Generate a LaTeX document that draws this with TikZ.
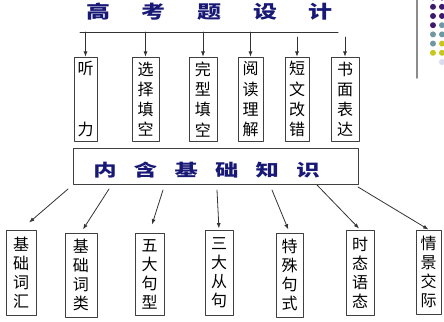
\documentclass[tikz,border=0pt]{standalone}
\usepackage{fontspec}
\usepackage{graphicx}
\newfontfamily\cjk{Noto Sans CJK SC}
\usetikzlibrary{arrows.meta}
\definecolor{headblue}{RGB}{24,24,118}
\definecolor{dotpurple}{RGB}{62,26,110}
\definecolor{dotteal}{RGB}{112,152,164}
\definecolor{dotyellow}{RGB}{200,198,28}
\definecolor{dotlilac}{RGB}{218,218,240}
\tikzset{
  box/.style={draw=black!75, line width=0.75pt, inner sep=0pt, align=center,
    font=\cjk\fontsize{12}{15.2}\selectfont},
  lowbox/.style={box, font=\cjk\fontsize{12}{14.25}\selectfont},
  arr/.style={-{Latex[length=4pt,width=3pt]}, draw=black!80, line width=0.6pt},
  headtext/.style={text=headblue, inner sep=0pt, font=\cjk\bfseries},
}

\begin{document}
\begin{tikzpicture}[x=0.75pt, y=-0.75pt, line join=round, line cap=round]
  \useasboundingbox (0,0) rectangle (444,322);

  % Corner decoration
  \draw[black!45, line width=1.2pt] (417,0) -- (417,78);
  \foreach \row/\ca/\cb in {0/dotpurple/dotpurple, 1/dotpurple/dotpurple,
      2/dotpurple/dotpurple, 3/dotpurple/dotteal, 4/dotteal/dotteal,
      5/dotteal/dotyellow, 6/dotyellow/dotyellow}
  {
    \fill[\ca] (433, -2.4+9.2*\row) circle (3);
    \fill[\cb] (442, -2.4+9.2*\row) circle (3);
  }
  \fill[dotlilac] (442, 62) circle (3);

  % Title and bar
  \node[headtext] (title) at (209.5, 12)
    {\scalebox{1.2}[0.9]{\fontsize{15}{18}\selectfont 高\hspace{1.32em}考\hspace{1.32em}题\hspace{1.32em}设\hspace{1.32em}计}};
  \coordinate (barL) at (80, 32);
  \coordinate (barR) at (338, 32);
  \draw[black!80, line width=0.75pt] (barL) -- (barR);

  % Exam parts
  \foreach \name/\cx/\w/\txt in {listen/85.5/23/{听\\[30.4pt]力},
      choose/145.5/27/{选\\择\\填\\空}, cloze/203/28/{完\\型\\填\\空},
      read/250.5/25/{阅\\读\\理\\解}, fix/297/24/{短\\文\\改\\错},
      write/345/28/{书\\面\\表\\达}}
    \node[box, minimum width=\w*0.75pt, minimum height=63pt] (\name) at (\cx, 99.25) {\txt};

  \draw[arr] (listen.north |- barL) -- (listen.north);
  \draw[arr] (choose.north |- barL) -- (choose.north);
  \draw[arr] (cloze.north |- barL) -- (cloze.north);
  \draw[arr] (read.north |- barL) -- (read.north);
  \draw[arr, shorten <=3.75pt] (fix.north |- barL) -- (fix.north);
  \draw[arr, shorten <=3.75pt] (write.north |- barL) -- (write.north);

  % Basic knowledge
  \node[draw=black!75, line width=0.75pt, inner sep=0pt,
    minimum width=213.75pt, minimum height=27pt] (base) at (215.5, 166) {};
  \node[headtext] (basetext) at (206.5, 170)
    {\scalebox{1.25}[0.9]{\fontsize{14}{16}\selectfont 内\hspace{0.74em}含\hspace{0.74em}基\hspace{0.74em}础\hspace{0.74em}知\hspace{0.74em}识}};

  \foreach \name/\cx/\cy/\w/\h/\txt in {bA/21/272.5/30/85/{基\\础\\词\\汇},
      bB/81/275/32/84/{基\\础\\词\\类}, bC/149.5/274/29/82/{五\\大\\句\\型},
      bD/219/272.5/28/85/{三\\大\\从\\句}, bE/289.5/275/27/84/{特\\殊\\句\\式},
      bF/360/272.5/28/85/{时\\态\\语\\态}, bG/428.5/272/25/84/{情\\景\\交\\际}}
    \node[lowbox, minimum width=\w*0.75pt, minimum height=\h*0.75pt] (\name) at (\cx, \cy) {\txt};

  \foreach \i/\sx/\sy/\b/\g in {1/68/189/bA/8pt, 2/109/189/bB/2.7pt,
      3/163/190/bC/6.3pt, 4/217/190/bD/0.8pt, 5/272/190/bE/2.4pt,
      6/317/185/bF/1pt, 7/358/187/bG/0pt}
  {
    \coordinate (s\i) at (\sx, \sy);
    \draw[arr, shorten >=\g] (s\i) -- (\b.north);
  }
\end{tikzpicture}
\end{document}
